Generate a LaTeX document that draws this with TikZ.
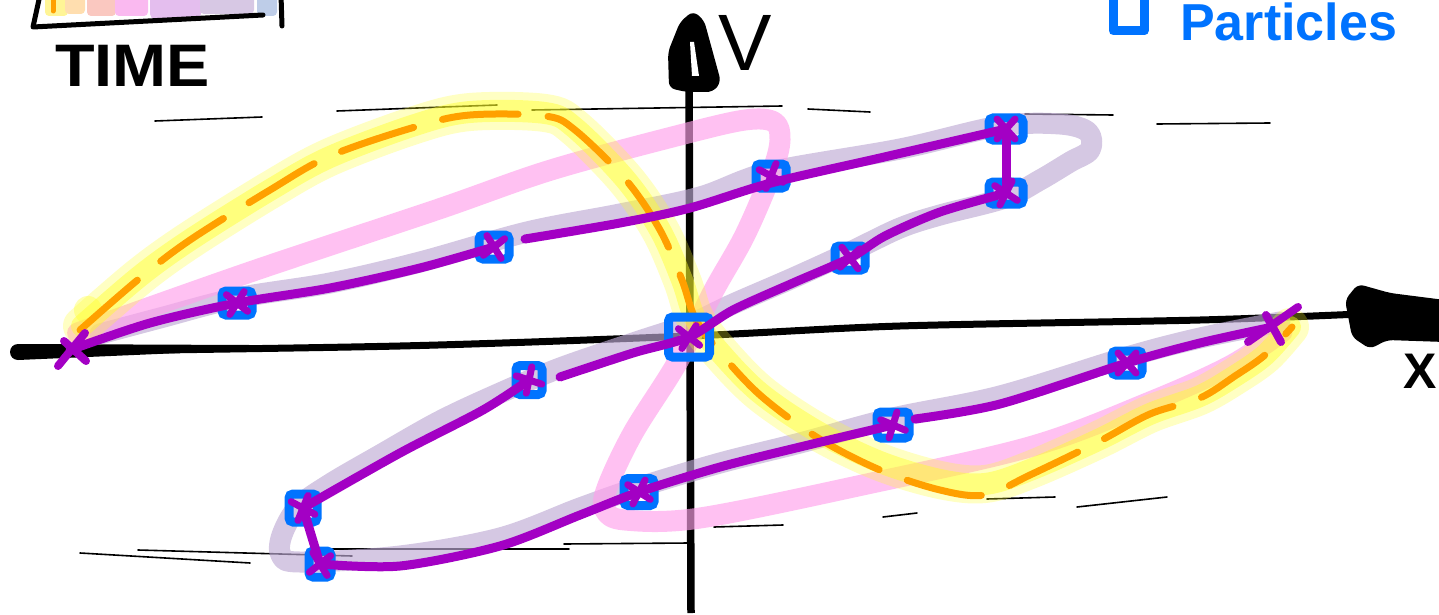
\documentclass[tikz,border=0pt]{standalone}
\usepackage{fontspec}
\setmainfont{Liberation Sans}
\definecolor{purp}{RGB}{163,0,196}
\definecolor{bluesq}{RGB}{0,115,255}
\definecolor{orng}{RGB}{255,160,0}
\definecolor{yel}{RGB}{255,255,40}
\definecolor{pnk}{RGB}{255,160,235}
\definecolor{lav}{RGB}{190,170,212}
\definecolor{barA}{RGB}{255,245,150}
\definecolor{barB}{RGB}{255,222,175}
\definecolor{barC}{RGB}{250,200,192}
\definecolor{barD}{RGB}{250,185,240}
\definecolor{barE}{RGB}{228,190,238}
\definecolor{barF}{RGB}{215,200,228}
\definecolor{barG}{RGB}{190,205,232}
\begin{document}
\begin{tikzpicture}[x=1pt,y=-1pt,
  traj/.style={purp,line width=9pt,line cap=round,line join=round},
  sq/.style={draw=bluesq,line width=9pt,rounded corners=4pt,minimum width=30pt,minimum height=24pt,inner sep=0pt},
  guide/.style={black,line width=1.6pt,line cap=round},
  band/.style={line width=21pt,line cap=round,line join=round,opacity=0.65},
  xmark/.pic={\draw[purp,line width=7pt,line cap=round] (-9,-10) -- (9,10) (-9,10) -- (9,-10);},
]
\useasboundingbox (0,0) rectangle (1439,615);
% guide dashes
\draw[guide] (155,121) -- (262,117);
\draw[guide] (337,111) -- (497,105);
\draw[guide] (532,110) -- (782,106);
\draw[guide] (808,109) -- (870,112);
\draw[guide] (1025,114) -- (1113,115);
\draw[guide] (1157,124) -- (1270,123);
\draw[guide] (80,553) -- (250,563);
\draw[guide] (138,550) -- (352,556);
\draw[guide] (332,549) -- (569,549);
\draw[guide] (564,544) -- (689,543);
\draw[guide] (714,527) -- (783,525);
\draw[guide] (883,517) -- (917,513);
\draw[guide] (987,499) -- (1055,497);
\draw[guide] (1077,507) -- (1167,497);
% time bar
\fill[barA,rounded corners=4pt] (45,-10) rectangle (68,16);
\fill[barB,rounded corners=4pt] (65,-10) rectangle (85,14);
\fill[barC,rounded corners=4pt] (87,-10) rectangle (116,16);
\fill[barD,rounded corners=4pt] (115,-10) rectangle (148,16);
\fill[barE,rounded corners=5pt] (150,-10) rectangle (201,19);
\fill[barF,rounded corners=4pt] (200,-10) rectangle (254,14);
\fill[barG,rounded corners=4pt] (257,-10) rectangle (277,16);
\draw[orng,line width=5pt,line cap=round] (53,-5) -- (53,11);
\draw[black,line width=5pt,line cap=round,line join=round] (40,-5) -- (33,27) -- (263,15);
\draw[black,line width=5pt,line cap=round] (281,-5) -- (282,26);
% axes
\draw[black,line width=7pt,line cap=round] plot[smooth] coordinates {(18,352) (400,346) (690,336) (900,326) (1200,320) (1360,314)};
\fill[black] (18,344) -- (250,345) -- (250,350) -- (18,360) -- cycle;
\fill[black] (18,352) circle (8pt);
\fill[black,rounded corners=6pt] (1345,300) -- (1358,284) -- (1390,293) -- (1445,300) -- (1445,342) -- (1387,340) -- (1370,349) -- (1352,337) -- cycle;
\draw[black,line width=7.5pt] (691,613) -- (689,80);
\fill[black,rounded corners=6pt] (669,88) -- (668,52) -- (680,22) -- (693,11) -- (704,20) -- (721,82) -- (713,92) -- (686,92) -- cycle;
\fill[white] (690,42) -- (694,42) -- (699,76) -- (692,76) -- cycle;
% lavender band
\draw[band,lav] plot[smooth,tension=0.55] coordinates {(100,334) (160,318) (237,298) (330,283) (420,262) (527,232) (620,214) (700,197) (770,172) (900,149) (1000,126) (1060,124) (1088,132) (1090,150) (1070,162) (1040,180) (1005,198) (940,215) (900,228) (850,252) (793,278) (733,304) (690,324) (633,343) (560,368) (500,393) (440,421) (380,455) (330,484) (298,507) (282,535) (281,555) (300,562) (400,556) (500,538) (580,508) (640,487) (720,463) (800,443) (893,418) (1000,396) (1127,357) (1200,338) (1280,322)};
% pink band
\draw[band,pnk] plot[smooth,tension=0.55] coordinates {(78,333) (100,325) (256,270) (436,210) (551,170) (680,135) (745,120) (774,122) (780,140) (772,172) (745,235) (713,292) (677,363) (633,433) (607,488) (605,510) (625,520) (700,518) (867,484) (1033,446) (1150,402) (1230,366) (1282,332)};
% yellow band
\draw[yel,line width=38pt,line cap=round,line join=round,opacity=0.28] plot[smooth,tension=0.55] coordinates {(82,326) (140,276) (190,240) (270,190) (330,157) (415,125) (470,112) (545,113) (575,128) (626,180) (660,230) (682,280) (695,318) (718,350) (760,393) (818,432) (880,462) (940,480) (985,484) (1030,470) (1098,440) (1150,414) (1200,396) (1235,376) (1265,355) (1290,327)};
\draw[yel,line width=22pt,line cap=round,line join=round,opacity=0.45] plot[smooth,tension=0.55] coordinates {(82,326) (140,276) (190,240) (270,190) (330,157) (415,125) (470,112) (545,113) (575,128) (626,180) (660,230) (682,280) (695,318) (718,350) (760,393) (818,432) (880,462) (940,480) (985,484) (1030,470) (1098,440) (1150,414) (1200,396) (1235,376) (1265,355) (1290,327)};
\fill[yel,opacity=0.35] (88,310) circle (14pt);
% orange dashed
\draw[orng,line width=7pt,line cap=round,line join=round,dash pattern=on 76pt off 30pt] plot[smooth,tension=0.55] coordinates {(80,330) (140,278) (190,240) (270,190) (330,156) (415,127) (470,115) (545,116) (575,130) (626,180) (660,230) (682,280) (695,318) (718,350) (760,395) (818,438) (880,470) (940,490) (985,495) (1030,475) (1098,442) (1150,414) (1200,398) (1235,376) (1265,355) (1292,327)};
% particle squares
\node[sq] (p1) at (237,303) {};
\node[sq] (p2) at (494,247) {};
\node[sq] (p3) at (771,176) {};
\node[sq,minimum width=34pt,minimum height=22pt] (p4) at (1006,129) {};
\node[sq,minimum width=34pt,minimum height=22pt] (p5) at (1006,193) {};
\node[sq] (p6) at (850,258) {};
\node[sq,minimum width=41pt,minimum height=40pt] (p7) at (689,337) {};
\node[sq,minimum width=26pt,minimum height=29pt] (p8) at (529,380) {};
\node[sq,minimum width=28pt,minimum height=28pt] (p9) at (303,508) {};
\node[sq,minimum width=22pt,minimum height=26pt] (p10) at (320,564) {};
\node[sq,minimum width=30pt,minimum height=27pt] (p11) at (639,492) {};
\node[sq,minimum width=32pt,minimum height=26pt] (p12) at (893,425) {};
\node[sq] (p13) at (1127,363) {};
% purple trajectory
\draw[traj] plot[smooth,tension=0.5] coordinates {(70,350) (150,323) (p1.center) (330,288) (420,268) (p2.center)};
\draw[traj] plot[smooth,tension=0.5] coordinates {(525,239) (620,223) (690,208) (771,183) (880,158) (p4.center)};
\draw[traj] (p4.center) -- (p5.center);
\draw[traj] plot[smooth,tension=0.5] coordinates {(p5.center) (940,212) (885,236) (p6.center) (793,283) (733,310) (p7.center) (633,353) (560,377)};
\draw[traj] plot[smooth,tension=0.5] coordinates {(p8.center) (483,410) (400,453) (p9.center)};
\draw[traj] (p9.center) -- (p10.center);
\draw[traj] plot[smooth,tension=0.5] coordinates {(p10.center) (400,566) (500,546) (580,515) (p11.center) (720,467) (800,447) (p12.center)};
\draw[traj] plot[smooth,tension=0.5] coordinates {(915,419) (1000,404) (p13.center) (1200,343) (1268,328)};
\draw[traj,line width=8pt] (1248,342) -- (1298,307) (1266,315) -- (1281,342);
\draw[traj,line width=8pt] (58,366) -- (85,333) (64,341) -- (86,361);
\pic[rotate=10] at (p1.center) {xmark};
\pic[rotate=-10] at (p2.center) {xmark};
\pic[rotate=20] at (p3.center) {xmark};
\pic[rotate=0] at (p4.center) {xmark};
\pic[rotate=15] at (p5.center) {xmark};
\pic[rotate=-5] at (p6.center) {xmark};
\pic[rotate=10] at (p7.center) {xmark};
\pic[rotate=30] at (p8.center) {xmark};
\pic[rotate=20] at (p9.center) {xmark};
\pic[rotate=-10] at (p10.center) {xmark};
\pic[rotate=15] at (p11.center) {xmark};
\pic[rotate=25] at (p12.center) {xmark};
\pic[rotate=0] at (p13.center) {xmark};
% legend square
\draw[bluesq,line width=9pt,line cap=round,line join=round] (1113,-12) -- (1113,31) -- (1144,31) -- (1144,-12);
% labels
\node[anchor=base west,font=\fontsize{60}{62}\selectfont\bfseries,inner sep=0pt] (time) at (55,87) {\scalebox{1.08}[1]{TIME}};
\node[anchor=base west,font=\fontsize{80}{84}\selectfont,inner sep=0pt] (vlab) at (718,71) {V};
\node[anchor=base west,font=\fontsize{50}{56}\selectfont\bfseries,inner sep=0pt] (xlab) at (1403,388) {X};
\node[anchor=base west,font=\fontsize{52}{56}\selectfont\bfseries,text=bluesq,inner sep=0pt] (plab) at (1180,41) {Particles};
\end{tikzpicture}
\end{document}
